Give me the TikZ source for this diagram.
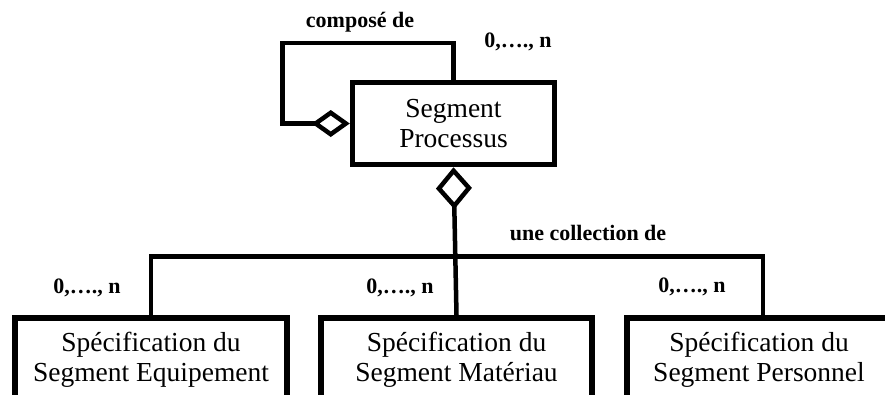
\documentclass[tikz,border=0pt]{standalone}
\usepackage{fontspec}
\setmainfont{Liberation Serif}
\usepackage{tikz}
\usetikzlibrary{arrows.meta}
\tikzstyle{cls} = [draw=black, line width=5.5pt, rectangle, align=center, font={\fontsize{27.5pt}{30pt}\selectfont}]
\tikzstyle{link} = [draw=black, line width=4.5pt]
\tikzstyle{lbl} = [anchor=base, font={\fontsize{22pt}{24pt}\selectfont\bfseries}]
\tikzstyle{agg} = [-{Diamond[open,length=38pt,width=27pt]}]
\tikzstyle{aggv} = [-{Diamond[open,length=42pt,width=36pt]}]

\begin{document}
\begin{tikzpicture}[x=1pt,y=-1pt]
        \useasboundingbox (0,0) rectangle (885,394);
        \clip (0,0) rectangle (885,394);
        \node[cls,minimum width=202,minimum height=82](sp) at (453.5,123.5){Segment\\Processus};
        \node[cls,minimum width=272,minimum height=84](eq) at (151,360){Spécification du\\Segment Equipement};
        \node[cls,minimum width=271,minimum height=84](ma) at (456.5,360){Spécification du\\Segment Matériau};
        \node[cls,minimum width=290,minimum height=84](pe) at (772,360){\hspace*{-26pt}Spécification du\\\hspace*{-26pt}Segment Personnel};
        \node[lbl](compose) at (360,27){composé de};
        \node[lbl](card0) at (518,47){0,…., n};
        \node[lbl](coll) at (588,240){une collection de};
        \node[lbl](card1) at (87,293){0,…., n};
        \node[lbl](card2) at (400,293){0,…., n};
        \node[lbl](card3) at (692,292){0,…., n};
        \draw[link,agg](sp.north)--++(0,-37)--++(-171,0)|-(sp.west);
        \draw[link](eq.north)--++(0,-59)-|([xshift=-9pt]pe.north);
        \draw[link,aggv](ma.north)--(sp.south);
      \end{tikzpicture}
\end{document}
